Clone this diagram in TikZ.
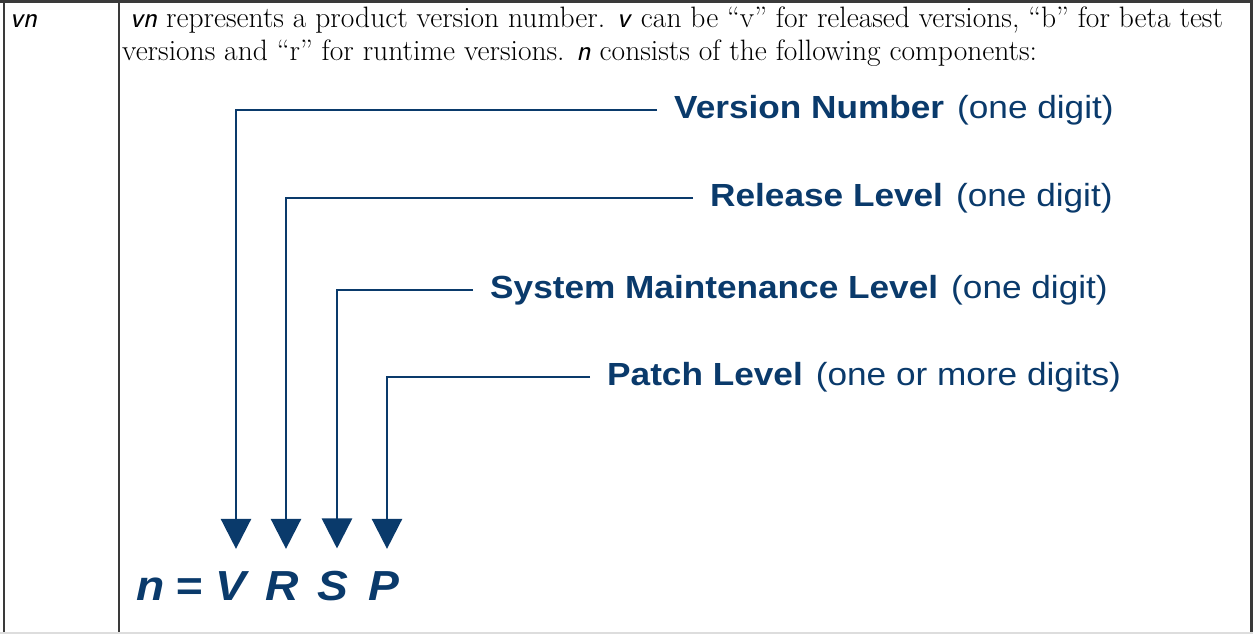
\documentclass[tikz,border=0pt]{standalone}
\usepackage{fontspec}
\usepackage{xcolor}
\usetikzlibrary{arrows.meta,positioning}
\newfontfamily\tagfont[FakeStretch=1.1]{Liberation Sans}
\definecolor{vrsBlue}{HTML}{0A3A6B}
\definecolor{vrsRule}{HTML}{3A3A3A}
\definecolor{vrsFaint}{HTML}{DDDDDD}

\begin{document}
\begin{tikzpicture}[x=1pt,y=-1pt,>={Triangle[width=30pt,length=30pt]},
  body/.style={anchor=base west,inner sep=0pt,font=\fontsize{29.5}{33}\selectfont},
  tag/.style={anchor=west,inner xsep=17pt,inner ysep=0pt,text=vrsBlue,
    font=\tagfont\fontsize{32}{36}\selectfont},
  letter/.style={anchor=base,inner sep=0pt,text=vrsBlue,
    font=\tagfont\fontsize{42}{46}\selectfont\bfseries\itshape},
  link/.style={draw=vrsBlue,line width=2.5pt,->,shorten >=22pt}]
\useasboundingbox (0,0) rectangle (1253,634);
% table frame
\draw[vrsRule,line width=2.6pt] (0,1.3) -- (1253,1.3);
\draw[vrsRule,line width=2pt] (3.7,0) -- (3.7,634);
\draw[vrsRule,line width=1.8pt] (119.3,0) -- (119.3,634);
\draw[vrsRule,line width=2.6pt] (1251.7,0) -- (1251.7,634);
\draw[vrsFaint,line width=1.6pt] (0,632.8) -- (1253,632.8);
% cell texts
\node[body] (term) at (10,28) {\textsf{\itshape vn}};
\node[body] (descA) at (130,28) {\textsf{\itshape vn} represents a product version number. \textsf{\itshape v} can be ``v'' for released versions, ``b'' for beta test};
\node[body] (descB) at (122,61) {versions and ``r'' for runtime versions. \textsf{\itshape n} consists of the following components:};
% n = V R S P
\node[letter] (n) at (151,600) {n};
\node[letter] (eq) at (189,600) {=};
\node[letter] (V) at (231,600) {V};
\node[letter] (R) at (282,600) {R};
\node[letter] (S) at (333,600) {S};
\node[letter] (P) at (384,600) {P};
% component labels
\node[tag] (vers) at (657,110) {\textbf{Version Number}\hspace{13pt}(one digit)};
\node[tag] (rel) at (693,198) {\textbf{Release Level}\hspace{13pt}(one digit)};
\node[tag] (sm) at (473,290) {\textbf{System Maintenance Level}\hspace{13pt}(one digit)};
\node[tag] (patch) at (590,377) {\textbf{Patch Level}\hspace{13pt}(one or more digits)};
% leaders
\draw[link] (vers.west) -| ([xshift=5pt]V.north);
\draw[link] (rel.west) -| ([xshift=4pt]R.north);
\draw[link] (sm.west) -| ([xshift=4pt]S.north);
\draw[link] (patch.west) -| ([xshift=3pt]P.north);
\end{tikzpicture}
\end{document}
